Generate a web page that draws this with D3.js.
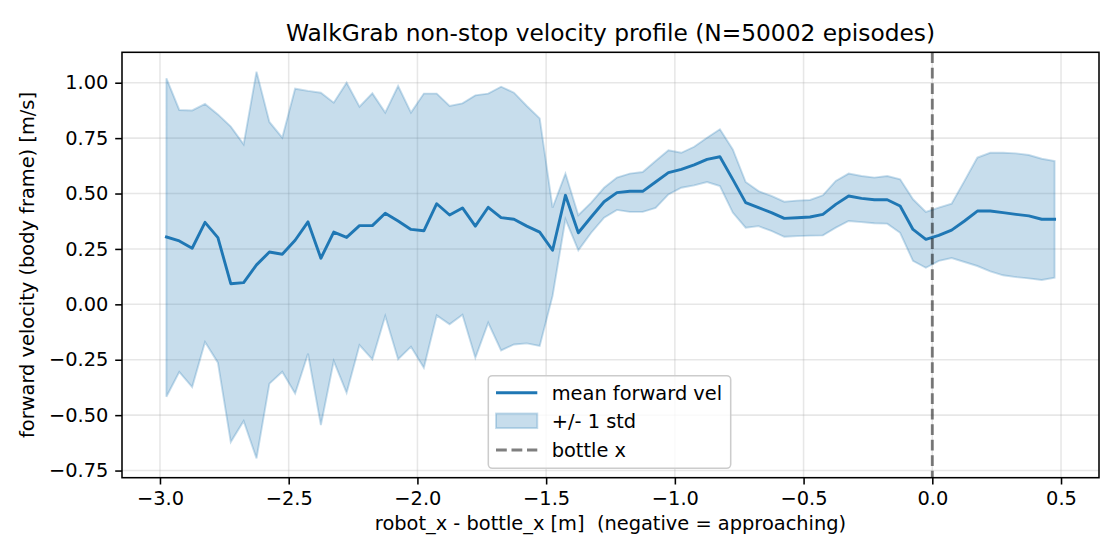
<!DOCTYPE html>
<html>
<head>
<meta charset="utf-8">
<script src="https://cdn.jsdelivr.net/npm/d3@7"></script>
<style>
  html, body { margin: 0; padding: 0; background: #fff; }
  svg { display: block; font-family: "DejaVu Sans", sans-serif; }
  text { white-space: pre; }
</style>
</head>
<body>
<svg id="chart" width="1120" height="560"></svg>
<script>
// ---- data ----
const xStart = -2.975, xStep = 0.05;
const meanVel = [0.304,0.286,0.253,0.370,0.301,0.093,0.098,0.178,0.236,0.226,
  0.289,0.372,0.208,0.326,0.302,0.355,0.355,0.411,0.376,0.338,
  0.332,0.454,0.403,0.435,0.353,0.438,0.391,0.384,0.353,0.326,
  0.244,0.492,0.323,0.394,0.463,0.504,0.510,0.510,0.552,0.594,
  0.609,0.629,0.654,0.666,0.564,0.459,0.436,0.414,0.388,0.391,
  0.394,0.406,0.451,0.489,0.478,0.472,0.472,0.444,0.338,0.293,
  0.311,0.335,0.376,0.421,0.421,0.414,0.406,0.399,0.384,0.384];
const upperVel = [1.020,0.877,0.875,0.904,0.857,0.802,0.722,1.050,0.823,0.752,
  0.973,0.963,0.955,0.910,1.000,0.892,0.952,0.865,0.985,0.865,
  0.951,0.951,0.895,0.907,0.943,0.951,0.982,0.955,0.895,0.839,
  0.436,0.590,0.402,0.459,0.526,0.572,0.590,0.597,0.647,0.695,
  0.684,0.711,0.752,0.790,0.699,0.552,0.511,0.489,0.463,0.468,
  0.471,0.492,0.557,0.590,0.579,0.572,0.579,0.564,0.474,0.417,
  0.436,0.454,0.557,0.662,0.684,0.684,0.681,0.674,0.657,0.647];
const lowerVel = [-0.417,-0.305,-0.373,-0.170,-0.263,-0.621,-0.526,-0.695,-0.358,-0.304,
  -0.402,-0.223,-0.545,-0.256,-0.399,-0.184,-0.248,-0.053,-0.248,-0.191,
  -0.286,-0.050,-0.090,-0.047,-0.241,-0.083,-0.208,-0.181,-0.176,-0.188,
  0.038,0.384,0.244,0.323,0.391,0.426,0.417,0.417,0.435,0.496,
  0.526,0.537,0.552,0.534,0.414,0.346,0.353,0.331,0.305,0.308,
  0.310,0.311,0.346,0.376,0.371,0.366,0.364,0.323,0.196,0.165,
  0.196,0.209,0.191,0.173,0.149,0.131,0.123,0.117,0.110,0.120];
const xTicks = [-3.0,-2.5,-2.0,-1.5,-1.0,-0.5,0.0,0.5];
const yTicks = [-0.75,-0.50,-0.25,0.00,0.25,0.50,0.75,1.00];
const bottleX = 0.0;
const titleText = "WalkGrab non-stop velocity profile (N=50002 episodes)";
const xLabelText = "robot_x - bottle_x [m]  (negative = approaching)";
const yLabelText = "forward velocity (body frame) [m/s]";
const legendLabels = ["mean forward vel", "+/- 1 std", "bottle x"];

const xs = meanVel.map((_, i) => xStart + xStep * i);
const rows = xs.map((x, i) => ({x, m: meanVel[i], lo: lowerVel[i], hi: upperVel[i]}));

// ---- layout ----
const L = 122, R = 1099, T = 52.3, B = 477.7;
const C0 = "#1f77b4";
const svg = d3.select("#chart");

const xMin = d3.min(xs), xMax = d3.max(xs);
const xPad = (xMax - xMin) * 0.05;
const yMin = d3.min(lowerVel), yMax = d3.max(upperVel);
const yPad = (yMax - yMin) * 0.05;
const x = d3.scaleLinear().domain([xMin - xPad, xMax + xPad]).range([L, R]);
const y = d3.scaleLinear().domain([yMin - yPad, yMax + yPad]).range([B, T]);

const fmtX = v => d3.format(".1f")(v).replace("-", "\u2212");
const fmtY = v => d3.format(".2f")(v).replace("-", "\u2212");

// grid
const grid = svg.append("g");
grid.selectAll("line.gx").data(xTicks).join("line")
  .attr("x1", d => x(d)).attr("x2", d => x(d)).attr("y1", T).attr("y2", B)
  .attr("stroke", "#b0b0b0").attr("stroke-opacity", 0.3).attr("stroke-width", 1.55);
grid.selectAll("line.gy").data(yTicks).join("line")
  .attr("y1", d => y(d)).attr("y2", d => y(d)).attr("x1", L).attr("x2", R)
  .attr("stroke", "#b0b0b0").attr("stroke-opacity", 0.3).attr("stroke-width", 1.55);

// band
const area = d3.area().x(d => x(d.x)).y0(d => y(d.lo)).y1(d => y(d.hi));
svg.append("path").datum(rows).attr("d", area)
  .attr("fill", C0).attr("fill-opacity", 0.25)
  .attr("stroke", C0).attr("stroke-opacity", 0.25).attr("stroke-width", 1.9);

// mean line
const line = d3.line().x(d => x(d.x)).y(d => y(d.m));
svg.append("path").datum(rows).attr("d", line)
  .attr("fill", "none").attr("stroke", C0).attr("stroke-width", 2.9)
  .attr("stroke-linejoin", "round").attr("stroke-linecap", "square");

// bottle line
svg.append("line")
  .attr("x1", x(bottleX)).attr("x2", x(bottleX)).attr("y1", T).attr("y2", B)
  .attr("stroke", "#000").attr("stroke-opacity", 0.5).attr("stroke-width", 2.9)
  .attr("stroke-dasharray", "10.8,4.7");

// axes
const xAxis = d3.axisBottom(x).tickValues(xTicks).tickFormat(fmtX).tickSize(6.8).tickPadding(6.8);
const yAxis = d3.axisLeft(y).tickValues(yTicks).tickFormat(fmtY).tickSize(6.8).tickPadding(6.8);
const gx = svg.append("g").attr("transform", `translate(0,${B})`).call(xAxis);
const gy = svg.append("g").attr("transform", `translate(${L},0)`).call(yAxis);
[gx, gy].forEach(g => {
  g.select(".domain").remove();
  g.selectAll(".tick line").attr("stroke", "#000").attr("stroke-width", 1.55);
  g.selectAll(".tick text").attr("fill", "#000").attr("font-size", 19.4)
    .attr("font-family", "DejaVu Sans");
});

// frame
svg.append("rect").attr("x", L).attr("y", T).attr("width", R - L).attr("height", B - T)
  .attr("fill", "none").attr("stroke", "#000").attr("stroke-width", 1.55);

// title & labels
svg.append("text").attr("x", (L + R) / 2).attr("y", 40.6).attr("text-anchor", "middle")
  .attr("font-size", 23.3).attr("fill", "#000").text(titleText);
svg.append("text").attr("x", (L + R) / 2).attr("y", 530).attr("text-anchor", "middle")
  .attr("xml:space", "preserve")
  .attr("font-size", 19.4).attr("fill", "#000").text(xLabelText);
svg.append("text").attr("transform", `translate(34,${(T + B) / 2}) rotate(-90)`)
  .attr("text-anchor", "middle").attr("font-size", 19.4).attr("fill", "#000").text(yLabelText);

// legend
const lg = svg.append("g");
lg.append("rect").attr("x", 488.3).attr("y", 375.7).attr("width", 242.4).attr("height", 92.6)
  .attr("rx", 4).attr("fill", "#fff").attr("fill-opacity", 0.8)
  .attr("stroke", "#cccccc").attr("stroke-width", 1.55);
const rowY = [392.7, 420.8, 450];
lg.append("line").attr("x1", 496).attr("x2", 537.3).attr("y1", rowY[0]).attr("y2", rowY[0])
  .attr("stroke", C0).attr("stroke-width", 2.9);
lg.append("rect").attr("x", 496).attr("y", rowY[1] - 7.3).attr("width", 41.3).attr("height", 14.6)
  .attr("fill", C0).attr("fill-opacity", 0.25)
  .attr("stroke", C0).attr("stroke-opacity", 0.25).attr("stroke-width", 1.9);
lg.append("line").attr("x1", 496).attr("x2", 537.3).attr("y1", rowY[2]).attr("y2", rowY[2])
  .attr("stroke", "#000").attr("stroke-opacity", 0.5).attr("stroke-width", 2.9)
  .attr("stroke-dasharray", "10.8,4.7");
lg.selectAll("text").data(legendLabels).join("text")
  .attr("x", 551.7).attr("y", (d, i) => rowY[i]).attr("dy", "0.36em")
  .attr("font-size", 19.4).attr("fill", "#000").text(d => d);
</script>
</body>
</html>
